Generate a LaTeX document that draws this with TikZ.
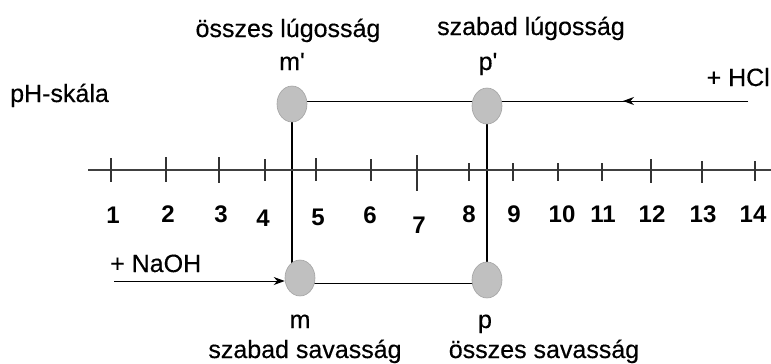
\documentclass[tikz,border=0pt]{standalone}
\usepackage{fontspec}
\setmainfont{Liberation Sans}
\usetikzlibrary{arrows.meta,shapes.geometric,backgrounds}
\definecolor{dotgray}{RGB}{192,192,192}
\newfontfamily\lblfont[FakeBold=0.35]{Liberation Sans}
\begin{document}
\begin{tikzpicture}[x=1pt,y=-1pt,>={Stealth[length=11pt,width=8pt]},
	every node/.style={font=\lblfont\fontsize{25}{30}\selectfont,inner sep=0pt},
	dot/.style={ellipse,fill=dotgray,draw=dotgray!85!black,line width=0.6pt,minimum width=30pt,minimum height=36pt},
	conn/.style={line width=1pt,black}]
	\useasboundingbox (0,0) rectangle (771,364);
	% pH axis with ticks and numbers
	\draw[line width=1.6pt,black!75] (88,170) -- (771,170);
	\foreach \x/\t/\b in {111/158/182,166/157/182,219/157/183,265/159/181,316/158/181,371/159/181,
		417/155/191,469/163/181,513/163/181,558/163/181,602/163/181,651/159/183,702/161/183,755/161/181}
	\draw[line width=1.1pt,black!80] (\x,\t) -- (\x,\b);
	\foreach \x/\v/\y in {113/1/223,168/2/222,221/3/222,263/4/226,318/5/225,370/6/223,419/7/233,
		469/8/222,514/9/222,562/10/222,603/11/222,652/12/222,703/13/222,753/14/222}
	\node[anchor=base,font=\bfseries\fontsize{24}{28}\selectfont] (n\v) at (\x,\y) {\v};
	\node[anchor=base west] (skala) at (10,102) {pH-skála};
	% the four points
	\node[dot] (mv) at (292,104) {};
	\node[dot] (pv) at (487,106) {};
	\node[dot] (m) at (300,278) {};
	\node[dot] (p) at (487,280) {};
	\coordinate (hcl) at (748,101);
	\coordinate (hcltip) at (623,101);
	\coordinate (naoh) at (114,281);
	\coordinate (low) at (0,283);
	\begin{scope}[on background layer]
		\draw[conn] (hcl) -- (hcl -| mv);
		\draw[conn,->] (hcl) -- (hcltip);
		\draw[conn] (m |- low) -- (p |- low);
		\draw[conn,->] (naoh) -- (naoh -| m.west);
		\draw[conn,line width=1.3pt] (mv) -- (mv |- m);
		\draw[conn,line width=1.3pt] (pv) -- (p);
	\end{scope}
	% labels
	\node[anchor=base] (mvtxt) at (288,37) {összes lúgosság};
	\node[anchor=base] (mvname) at (292,70) {m\textquotesingle};
	\node[anchor=base] (pvtxt) at (531,35) {szabad lúgosság};
	\node[anchor=base] (pvname) at (488,70) {p\textquotesingle};
	\node[anchor=base east] (hcltxt) at (770,86) {+ HCl};
	\node[anchor=base west] (naohtxt) at (110,272) {+ NaOH};
	\node[anchor=base] (mname) at (300,328) {m};
	\node[anchor=base] (pname) at (485,328) {p};
	\node[anchor=base] (mtxt) at (305,358) {szabad savasság};
	\node[anchor=base] (ptxt) at (544,358) {összes savasság};
\end{tikzpicture}
\end{document}
